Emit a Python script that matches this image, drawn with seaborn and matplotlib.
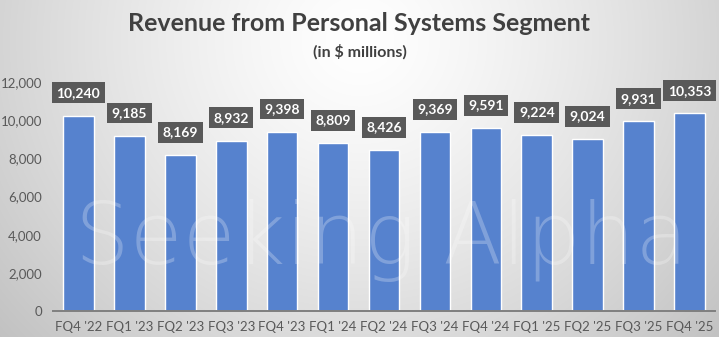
import numpy as np
import pandas as pd
import matplotlib
matplotlib.use("Agg")
import matplotlib.pyplot as plt
import seaborn as sns

quarters = ["FQ4 '22", "FQ1 '23", "FQ2 '23", "FQ3 '23", "FQ4 '23", "FQ1 '24", "FQ2 '24",
            "FQ3 '24", "FQ4 '24", "FQ1 '25", "FQ2 '25", "FQ3 '25", "FQ4 '25"]
revenue = [10240, 9185, 8169, 8932, 9398, 8809, 8426, 9369, 9591, 9224, 9024, 9931, 10353]
yticks = [0, 2000, 4000, 6000, 8000, 10000, 12000]

df = pd.DataFrame({"quarter": quarters, "revenue": revenue})

sns.set_theme(style="white")
plt.rcParams['font.family'] = ['Lato', 'DejaVu Sans']

W, H = 719, 337
fig = plt.figure(figsize=(W / 100, H / 100), dpi=100)

# background radial gradient
bg = fig.add_axes([0, 0, 1, 1], zorder=-10)
yy, xx = np.mgrid[0:H, 0:W]
cx, cy = W * 0.5, H * 0.12
r = np.sqrt(((xx - cx) / (W * 0.62)) ** 2 + ((yy - cy) / (H * 1.25)) ** 2)
v = np.clip(1.0 - 0.22 * r ** 1.3, 0.76, 1.0)
img = np.dstack([v, v, v])
bg.imshow(img, aspect='auto', extent=[0, 1, 0, 1], origin='upper')
bg.set_axis_off()

ax = fig.add_axes([53 / W, (H - 311) / H, (715 - 53) / W, (311 - 82) / H])
ax.patch.set_alpha(0)
sns.barplot(data=df, x="quarter", y="revenue", color="#5682CE", saturation=1,
            width=0.6, ax=ax, zorder=2)

ax.set_ylim(0, 12000)
ax.set_xlim(-0.5, len(quarters) - 0.5)
ax.set_yticks(yticks)
ax.set_yticklabels([f"{t:,}" for t in yticks])
ax.set_xlabel("")
ax.set_ylabel("")
ax.tick_params(axis='both', length=0, labelsize=9.5, labelcolor="#595959")
ax.tick_params(axis='y', pad=8)
ax.tick_params(axis='x', pad=7)
for s in ["top", "right", "left"]:
    ax.spines[s].set_visible(False)
ax.spines["bottom"].set_color("#7f7f7f")
ax.spines["bottom"].set_linewidth(1.4)

for i, val in enumerate(revenue):
    ax.annotate(f"{val:,}", xy=(i, val), xytext=(0, 12), textcoords="offset points",
                ha="center", va="bottom", fontsize=10, fontweight="bold", color="white",
                bbox=dict(boxstyle="square,pad=0.32", fc="#595959", ec="none"),
                annotation_clip=False, zorder=5)

# watermark
fig.text(0.53, 0.285, "Seeking Alpha", ha="center", va="center", fontsize=62,
         fontweight="light", color="white", alpha=0.25, zorder=3,
         family=["DejaVu Sans"])

fig.text(0.5, 0.93, "Revenue from Personal Systems Segment", ha="center", va="center",
         fontsize=18, fontweight="bold", color="#404040")
fig.text(0.5, 0.845, "(in $ millions)", ha="center", va="center",
         fontsize=11.5, fontweight="bold", color="#404040")

fig.savefig("out.png", dpi=100)
